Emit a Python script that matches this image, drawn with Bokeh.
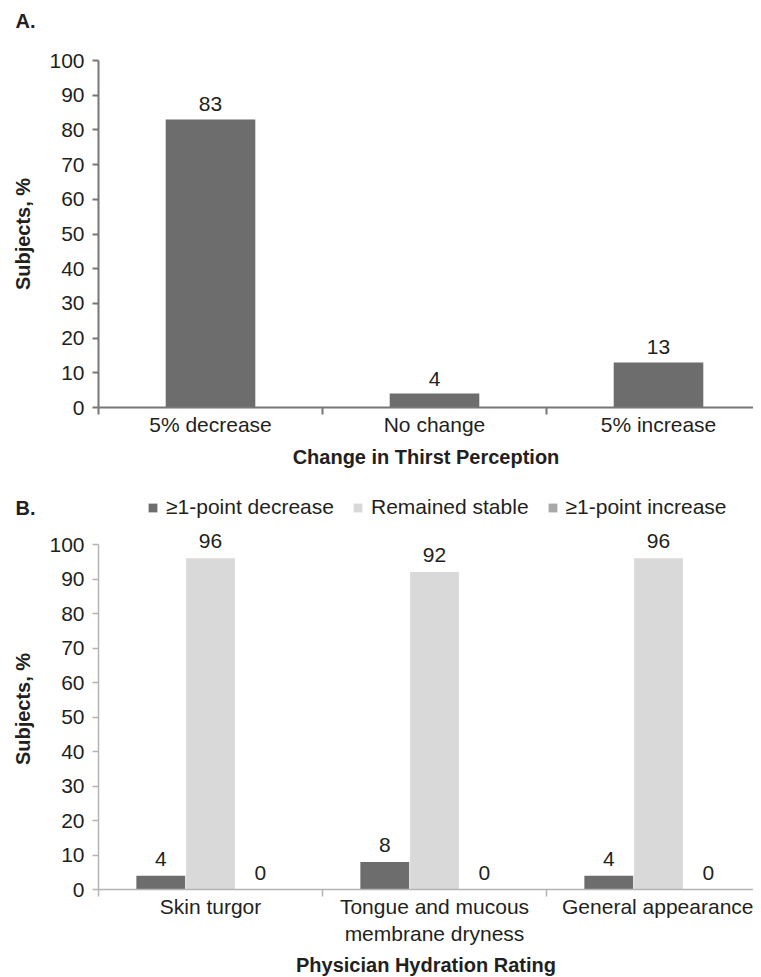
from bokeh.plotting import figure
from bokeh.models import (Range1d, FixedTicker, ColumnDataSource, LabelSet,
                          Legend, LegendItem)
from bokeh.core.properties import value
from bokeh.layouts import column
from bokeh.embed import file_html
from bokeh.resources import INLINE

# ---------------- data ----------------
thirst_categories = ["5% decrease", "No change", "5% increase"]
thirst_values = [83, 4, 13]

rating_categories = ["Skin turgor", "Tongue and mucous\nmembrane dryness", "General appearance"]
series_names = ["\u22651-point decrease", "Remained stable", "\u22651-point increase"]
decrease_values = [4, 8, 4]
stable_values = [96, 92, 96]
increase_values = [0, 0, 0]

y_ticks = [0, 10, 20, 30, 40, 50, 60, 70, 80, 90, 100]

# ---------------- style ----------------
FONT = "Liberation Sans"
TEXT = "#231f20"
DARK = "#6d6d6d"
LIGHT = "#d9d9d9"
MID = "#a8a8a8"
CAT_PX = 224      # pixels per category
FRAME_W = 655
LEFT = 98


def clean(p):
    p.grid.visible = False
    p.outline_line_color = None
    p.background_fill_color = "white"
    p.border_fill_color = "white"


def style(p, axis_color, axis_width, x_labels, x_title, title_standoff):
    n = len(x_labels)
    clean(p)
    for ax in (p.xaxis[0], p.yaxis[0]):
        ax.axis_line_color = axis_color
        ax.axis_line_width = axis_width
        ax.major_tick_line_color = axis_color
        ax.major_tick_line_width = axis_width
        ax.minor_tick_line_color = axis_color
        ax.minor_tick_line_width = axis_width
        ax.major_label_text_font = FONT
        ax.major_label_text_font_size = "21px"
        ax.major_label_text_color = TEXT
        ax.axis_label_text_font = FONT
        ax.axis_label_text_font_size = "20px"
        ax.axis_label_text_font_style = "bold"
        ax.axis_label_text_color = TEXT
    ya = p.yaxis[0]
    ya.ticker = FixedTicker(ticks=y_ticks, minor_ticks=[])
    ya.bounds = (0, 100)
    ya.major_tick_out = 6
    ya.major_tick_in = 0
    ya.minor_tick_out = 0
    ya.minor_tick_in = 0
    ya.major_label_standoff = 8
    ya.axis_label = "Subjects, %"
    ya.axis_label_standoff = 12
    xa = p.xaxis[0]
    centres = [i + 0.5 for i in range(n)]
    bounds = [float(i) for i in range(n + 1)]
    xa.ticker = FixedTicker(ticks=centres, minor_ticks=bounds)
    xa.major_label_overrides = {c: lab for c, lab in zip(centres, x_labels)}
    xa.major_tick_out = 0
    xa.major_tick_in = 0
    xa.minor_tick_out = 7
    xa.minor_tick_in = 0
    xa.major_label_standoff = -2
    xa.axis_label = x_title
    xa.axis_label_standoff = title_standoff


def header(text, height):
    """A thin strip whose left axis carries the panel letter."""
    h = figure(frame_width=FRAME_W, frame_height=height, min_border_left=LEFT,
               min_border_right=0, min_border_top=0, min_border_bottom=0,
               x_range=Range1d(-20, -19), y_range=Range1d(-20, -19),
               x_axis_location=None, output_backend="svg", toolbar_location=None)
    clean(h)
    ya = h.yaxis[0]
    ya.ticker = FixedTicker(ticks=[-19.5], minor_ticks=[])
    ya.major_label_overrides = {-19.5: text}
    ya.axis_line_color = None
    ya.major_tick_line_color = None
    ya.minor_tick_line_color = None
    ya.major_tick_out = 0
    ya.major_tick_in = 0
    ya.major_label_standoff = 63
    ya.major_label_text_font = FONT
    ya.major_label_text_font_size = "20px"
    ya.major_label_text_font_style = "bold"
    ya.major_label_text_color = TEXT
    return h


# ---------------- panel A ----------------
hA = header("A.", 40)

pA = figure(frame_width=FRAME_W, frame_height=347, min_border_left=LEFT, min_border_right=0,
            min_border_top=20, min_border_bottom=85,
            x_range=Range1d(0, FRAME_W / CAT_PX), y_range=Range1d(0, 100),
            output_backend="svg", toolbar_location=None)
style(pA, "#777777", 2, thirst_categories, "Change in Thirst Perception", 7)

xA = [i + 0.5 for i in range(len(thirst_categories))]
srcA = ColumnDataSource(dict(x=xA, top=thirst_values, txt=[str(v) for v in thirst_values]))
pA.vbar(x="x", top="top", bottom=0, width=0.4, source=srcA, fill_color=DARK, line_color=None)
pA.add_layout(LabelSet(x="x", y="top", text="txt", source=srcA, text_align="center",
                       text_baseline="alphabetic", y_offset=8, text_font=value(FONT),
                       text_font_size="21px", text_color=TEXT))

# ---------------- panel B ----------------
series_values = [decrease_values, stable_values, increase_values]
series_colors = [DARK, LIGHT, MID]
offsets = [-0.222, 0.0, 0.222]

hB = header("B.", 30)

pB = figure(frame_width=FRAME_W, frame_height=361, min_border_left=LEFT, min_border_right=0,
            min_border_top=6, min_border_bottom=88,
            x_range=Range1d(0, FRAME_W / CAT_PX), y_range=Range1d(0, 104.64),
            output_backend="svg", toolbar_location=None)
style(pB, "#b4b4b4", 1.5, rating_categories, "Physician Hydration Rating", 6)

items = []
for name, vals, col, off in zip(series_names, series_values, series_colors, offsets):
    xs = [i + 0.5 + off for i in range(len(rating_categories))]
    src = ColumnDataSource(dict(x=xs, top=vals, txt=[str(v) for v in vals]))
    pB.vbar(x="x", top="top", bottom=0, width=0.218, source=src,
            fill_color=col, line_color=None)
    pB.add_layout(LabelSet(x="x", y="top", text="txt", source=src, text_align="center",
                           text_baseline="alphabetic", y_offset=10, text_font=value(FONT),
                           text_font_size="21px", text_color=TEXT))
    # same series in the header strip (outside its visible ranges) to key the legend
    rl = hB.vbar(x="x", top="top", bottom=0, width=0.218, source=src,
                 fill_color=col, line_color=None)
    items.append(LegendItem(label=name, renderers=[rl]))

legend = Legend(items=items, orientation="horizontal", location="center_left",
                border_line_alpha=0, background_fill_alpha=0, padding=49, margin=0,
                spacing=18, label_standoff=8, glyph_width=11, glyph_height=11,
                label_height=20, label_text_font=FONT, label_text_font_size="21px",
                label_text_color=TEXT)
hB.add_layout(legend)

layout = column(hA, pA, hB, pB, spacing=0)
open("out.html", "w").write(file_html(layout, INLINE))
